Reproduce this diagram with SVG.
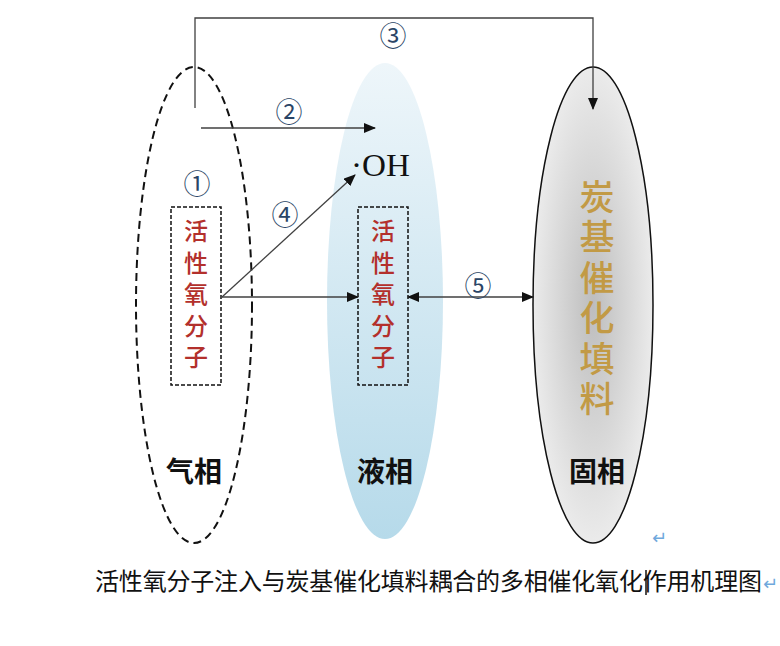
<svg xmlns="http://www.w3.org/2000/svg" width="780" height="646" viewBox="0 0 780 646">
  <style>
    .num { font-family: "Noto Sans CJK SC", "DejaVu Sans", sans-serif; font-size: 27px; fill: #2a4566; text-anchor: middle; dominant-baseline: central; }
    .red { font-family: "Noto Sans CJK SC", sans-serif; font-size: 24px; font-weight: 500; fill: #b3302c; writing-mode: vertical-rl; letter-spacing: 7.5px; }
    .gold { font-family: "Noto Sans CJK SC", sans-serif; font-size: 35px; font-weight: 500; fill: #c29a45; writing-mode: vertical-rl; letter-spacing: 5.5px; }
    .phase { font-family: "Noto Sans CJK SC", sans-serif; font-size: 28px; font-weight: bold; fill: #111; text-anchor: middle; }
    .ln { stroke: #404040; stroke-width: 1.3; fill: none; }
    .box { fill: none; stroke: #111; stroke-width: 1.5; stroke-dasharray: 4 2; }
    .mark { font-family: "DejaVu Sans", sans-serif; font-size: 18px; fill: #6fa8dc; }
  </style>
  <defs>
    <linearGradient id="liq" x1="0" y1="0" x2="0" y2="1">
      <stop offset="0" stop-color="#eef6fa"/>
      <stop offset="1" stop-color="#b6daea"/>
    </linearGradient>
    <radialGradient id="sol" cx="0.5" cy="0.5" r="0.5">
      <stop offset="0" stop-color="#bdbdbd"/>
      <stop offset="1" stop-color="#ebebeb"/>
    </radialGradient>
    <marker id="ah" markerWidth="12" markerHeight="10" refX="11" refY="5" orient="auto" markerUnits="userSpaceOnUse">
      <path d="M0,0 L12,5 L0,10 Z" fill="#111"/>
    </marker>
    <marker id="ahs" markerWidth="12" markerHeight="10" refX="1" refY="5" orient="auto" markerUnits="userSpaceOnUse">
      <path d="M12,0 L0,5 L12,10 Z" fill="#111"/>
    </marker>
  </defs>

  <g id="liquid-phase">
    <ellipse cx="385" cy="301" rx="58" ry="238" fill="url(#liq)"/>
    <text x="351" y="176" font-family="Liberation Serif, serif" font-size="31" fill="#111" textLength="59" lengthAdjust="spacingAndGlyphs">·OH</text>
    <rect class="box" x="358" y="207" width="50" height="178"/>
    <text class="red" x="383" y="219">活性氧分子</text>
    <text class="phase" x="385" y="482">液相</text>
  </g>

  <g id="gas-phase">
    <ellipse cx="194" cy="305" rx="58" ry="238" fill="none" stroke="#111" stroke-width="2" stroke-dasharray="8 5"/>
    <rect class="box" x="171" y="207" width="50" height="178"/>
    <text class="red" x="196" y="219">活性氧分子</text>
    <text class="phase" x="194" y="482">气相</text>
  </g>

  <g id="solid-phase">
    <ellipse cx="593" cy="305" rx="60" ry="238" fill="url(#sol)" stroke="#111" stroke-width="1.5"/>
    <text class="gold" x="597" y="179">炭基催化填料</text>
    <text class="phase" x="597" y="482">固相</text>
  </g>

  <g id="connectors">
    <polyline class="ln" points="195,108 195,18 593,18 593,109" marker-end="url(#ah)"/>
    <line class="ln" x1="201" y1="128" x2="375" y2="128" marker-end="url(#ah)"/>
    <line class="ln" x1="222" y1="297" x2="355" y2="175" marker-end="url(#ah)"/>
    <line class="ln" x1="222" y1="297" x2="358" y2="297" marker-end="url(#ah)"/>
    <line class="ln" x1="408" y1="297" x2="533" y2="297" marker-start="url(#ahs)" marker-end="url(#ah)"/>
  </g>

  <g id="labels">
    <text class="num" x="197" y="182">①</text>
    <text class="num" x="289" y="110">②</text>
    <text class="num" x="393" y="34">③</text>
    <text class="num" x="285" y="213">④</text>
    <text class="num" x="478" y="284">⑤</text>
  </g>

  <g id="caption">
    <text class="mark" x="652" y="544">↵</text>
    <text x="95" y="590" font-family="Noto Sans CJK SC, sans-serif" font-size="24" fill="#111" textLength="667" lengthAdjust="spacing">活性氧分子注入与炭基催化填料耦合的多相催化氧化作用机理图</text>
    <line x1="646" y1="570" x2="646" y2="595" stroke="#111" stroke-width="1.5"/>
    <text class="mark" x="763" y="590">↵</text>
  </g>
</svg>
